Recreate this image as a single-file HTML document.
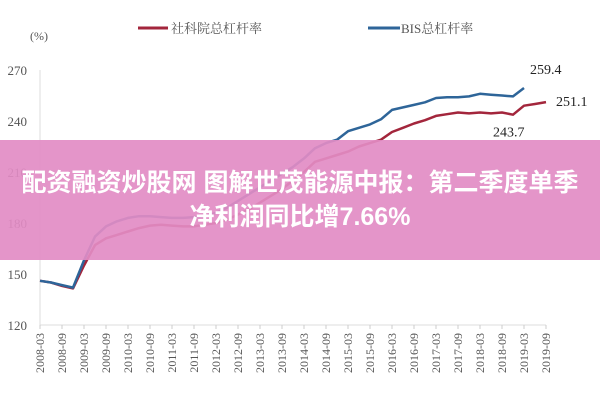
<!DOCTYPE html>
<html><head><meta charset="utf-8"><style>
html,body{margin:0;padding:0;background:#fff;width:600px;height:400px;overflow:hidden}
svg{display:block}
.t{font-family:"Liberation Serif","Noto Serif CJK SC",serif;fill:#555}
#banner{position:absolute;left:0;top:140px;width:600px;height:120px;background:rgba(226,140,196,0.92);color:#fff;font-family:"Liberation Sans","Noto Sans CJK SC",sans-serif;font-weight:bold;font-size:25px;text-align:center;line-height:34px;padding-top:26px;box-sizing:border-box;white-space:nowrap;letter-spacing:0px}
</style></head><body>
<svg id="chart" width="600" height="400"></svg>
<div id="banner">配资融资炒股网 图解世茂能源中报：第二季度单季<br>净利润同比增7.66%</div>
<script>
const xLabels=["2008-03","2008-09","2009-03","2009-09","2010-03","2010-09","2011-03","2011-09","2012-03","2012-09","2013-03","2013-09","2014-03","2014-09","2015-03","2015-09","2016-03","2016-09","2017-03","2017-09","2018-03","2018-09","2019-03","2019-09"];
const yTicks=[120,150,180,210,240,270];
const cassValues=[146,145,143,141.5,155,167,171,173,175,177,178.5,179,178.5,178,178,179,180,182,185,188,192,196,200,205,210,216,218,220,222,225,227,229,233.5,236,238.5,240.5,243,244,245,244.5,245,244.5,245,243.7,249,250,251.1];
const bisValues=[146,145,143.5,142,158,172,178,181,183,184,184,183.5,183,183,183.5,184,186,189,193,197,201,205,209,213,218,224,227,229,234,236,238,241,246.5,248,249.5,251,253.5,254,254,254.5,256,255.5,255,254.5,259.4];
const annotations=[{s:"bis",i:44,v:"259.4",dx:6,dy:-14},{s:"cass",i:46,v:"251.1",dx:10,dy:4},{s:"cass",i:43,v:"243.7",dx:-20,dy:22}];
const svg=document.getElementById('chart');const NS="http://www.w3.org/2000/svg";
const X0=40,X1=546,Y0=325,Y1=70,NQ=47;
const xq=i=>X0+(X1-X0)*i/(NQ-1);
const y=v=>Y0-(v-120)/(270-120)*(Y0-Y1);
function mk(t,a,txt){const e=document.createElementNS(NS,t);for(const k in a)e.setAttribute(k,a[k]);if(txt!==undefined)e.textContent=txt;svg.appendChild(e);return e;}
let e;
e=mk('line',{x1:X0,y1:Y1,x2:X0,y2:Y0,stroke:'#ddd','stroke-width':1});


e=mk('line',{x1:X0,y1:Y0,x2:X1,y2:Y0,stroke:'#ddd','stroke-width':1});


yTicks.forEach(v=>{
 e=mk('text',{x:27,y:y(v)+5,'text-anchor':'end','font-size':13,class:'t'},String(v));
 
 
});
xLabels.forEach((l,k)=>{
 const x=xq(k*2);
 e=mk('line',{x1:x,y1:Y0,x2:x,y2:Y0+4,stroke:'#ccc'});
 
 
 e=mk('text',{x:0,y:0,'text-anchor':'end','font-size':12,class:'t',transform:`translate(${x+4},${Y0+8}) rotate(-90)`},l);
 
 
});
e=mk('text',{x:30,y:40,'font-size':12,class:'t'},'(%)');


function series(vals,color,name){
 const d=vals.map((v,i)=>(i?'L':'M')+xq(i).toFixed(1)+','+y(v).toFixed(1)).join('');
 e=mk('path',{d:d,fill:'none',stroke:color,'stroke-width':2.5,'stroke-linejoin':'round'});
 
 
}
series(cassValues,'#a3263c','cass-leverage-line');
series(bisValues,'#2e6599','bis-leverage-line');
annotations.forEach(a=>{
 const vals=a.s==='bis'?bisValues:cassValues;
 e=mk('text',{x:xq(a.i)+a.dx,y:y(vals[a.i])+a.dy,'font-size':14,fill:'#222','font-family':'"Liberation Serif",serif'},a.v);
 
 
});
e=mk('line',{x1:138,y1:28,x2:168,y2:28,stroke:'#a3263c','stroke-width':3});


e=mk('text',{x:171,y:33,'font-size':13,class:'t'},'社科院总杠杆率');


e=mk('line',{x1:368,y1:28,x2:400,y2:28,stroke:'#2e6599','stroke-width':3});


e=mk('text',{x:401,y:33,'font-size':13,class:'t'},'BIS总杠杆率');


</script>
</body></html>
